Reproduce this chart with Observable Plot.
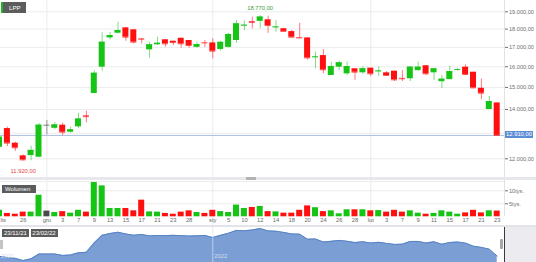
<!DOCTYPE html>
<html><head><meta charset="utf-8">
<script src="https://cdn.jsdelivr.net/npm/d3@7"></script>
<script src="https://cdn.jsdelivr.net/npm/@observablehq/plot@0.6"></script>
<style>
html,body{margin:0;padding:0;background:#fff;}
#chart{position:relative;width:536px;height:262px;overflow:hidden;font-family:"Liberation Sans",Arial,sans-serif;}
#chart svg{position:absolute;left:0;}
.ov{position:absolute;box-sizing:border-box;}
.lbl{position:absolute;box-sizing:border-box;background:#5c5c5c;color:#fff;font-size:6px;line-height:8px;white-space:nowrap;}
</style></head>
<body><div id="chart"></div>
<script>
// ---- data ----
const dates = ["2021-11-23","2021-11-24","2021-11-25","2021-11-26","2021-11-29","2021-11-30",
"2021-12-01","2021-12-02","2021-12-03","2021-12-06","2021-12-07","2021-12-08","2021-12-09","2021-12-10",
"2021-12-13","2021-12-14","2021-12-15","2021-12-16","2021-12-17","2021-12-20","2021-12-21","2021-12-22",
"2021-12-23","2021-12-27","2021-12-28","2021-12-29","2021-12-30",
"2022-01-03","2022-01-04","2022-01-05","2022-01-07","2022-01-10","2022-01-11","2022-01-12","2022-01-13",
"2022-01-14","2022-01-17","2022-01-18","2022-01-19","2022-01-20","2022-01-21","2022-01-24","2022-01-25",
"2022-01-26","2022-01-27","2022-01-28","2022-01-31",
"2022-02-01","2022-02-02","2022-02-03","2022-02-04","2022-02-07","2022-02-08","2022-02-09","2022-02-10",
"2022-02-11","2022-02-14","2022-02-15","2022-02-16","2022-02-17","2022-02-18","2022-02-21","2022-02-22","2022-02-23"];
const open  = [12440,13190,12600,12110,12120,12060,13330,13200,13330,13040,13260,13720,14720,15980,17510,17770,18070,17960,17460,16870,17140,17410,17330,17490,17370,17000,17250,17240,16890,17000,17370,18180,18420,18440,18530,18080,18020,17860,17530,17510,16470,16570,15570,15980,15650,15900,15700,15930,15760,15700,15780,15430,15410,15810,16050,15700,15270,15370,15830,15980,15730,14960,14000,14290];
const high  = [12900,13250,12640,12150,12480,13400,13530,13430,13420,13250,13830,13930,15800,17790,17820,18390,18100,17960,17460,17280,17550,17410,17330,17500,17370,17270,17370,17460,17330,17760,18490,18450,18680,18770,18740,18490,18050,17920,18330,17520,16750,16880,16230,16280,16230,15900,16010,15930,15990,15760,15780,15810,16010,16230,16050,15900,15570,16030,15920,16100,15730,15400,14580,14290];
const low   = [12400,12470,12280,11920,11930,12040,12930,13140,12900,13000,13190,13430,14700,15780,17400,17720,17330,17190,17190,16430,17100,17010,17100,16950,16950,16960,17000,16400,16800,16960,17220,17920,18010,18010,17760,17820,17840,17510,17500,16350,15900,15650,15570,15810,15570,15330,15620,15520,15520,15530,15280,15280,15280,15770,15570,15330,14940,15360,15790,15570,14940,14430,13990,12910];
const close = [12840,12600,12420,11960,12320,13330,13330,13340,13040,13140,13590,13690,15680,17275,17640,17920,17550,17280,17440,17140,17220,17190,17260,17190,17100,17150,17240,16800,17270,17700,18300,18220,18380,18690,18200,18120,17870,17550,17510,16450,16500,15850,16010,16200,16010,15730,15900,15650,15790,15570,15360,15410,15980,15980,15650,15900,15390,15760,15860,15620,14980,14730,14350,12910];
const volume = [2500,1300,1000,1800,1800,8300,2200,1650,2000,1400,2500,1800,13200,11900,3200,3200,3200,2300,6400,1900,1800,1300,1000,1800,2300,1650,1300,2500,2000,1650,4500,3200,3600,4000,2000,1900,1400,1400,2500,4200,3500,2000,2300,1150,2700,2700,2700,2300,2400,1800,2500,1800,2300,1400,1000,1300,2300,1800,1000,1500,2500,1500,2300,2200];
const priceGrid = [12000,13000,14000,15000,16000,17000,18000,19000];
const priceTicks = [12000,14000,15000,16000,17000,18000,19000];
const volumeTicks = [5000,10000];
const volumeTickLabels = ["5tys.","10tys."];
const tickDates = ["2021-11-23","2021-11-26","2021-12-01","2021-12-03","2021-12-07","2021-12-09","2021-12-13","2021-12-15","2021-12-17","2021-12-21","2021-12-23","2021-12-28","2022-01-03","2022-01-05","2022-01-10","2022-01-12","2022-01-14","2022-01-18","2022-01-20","2022-01-24","2022-01-26","2022-01-28","2022-02-01","2022-02-03","2022-02-07","2022-02-09","2022-02-11","2022-02-15","2022-02-17","2022-02-21","2022-02-23"];
const tickLabels = ["lis","26","gru","3","7","9","13","15","17","21","23","28","sty","5","10","12","14","18","20","24","26","28","lut","3","7","9","11","15","17","21","23"];
const monthStartDates = ["2021-12-01","2022-01-03","2022-02-01"];
const yearStartDates = ["2022-01-03"];
const yearLabels = ["2021","2022"];
const ticker = "LPP";
const volumeTitle = "Wolumen";

// ---- derived ----
const GREEN = "#16c416", RED = "#ff1010", FLAT = "#4a4a4a";
const rows = dates.map((d, i) => ({
  i, date: d, open: open[i], high: high[i], low: low[i], close: close[i], volume: volume[i],
  color: close[i] > open[i] ? GREEN : close[i] < open[i] ? RED : FLAT
}));
const idx = d => dates.indexOf(d);
const ticks = tickDates.map((d, k) => ({i: idx(d), label: tickLabels[k]}));
const firstTick = ticks.filter(t => t.i === 0);
const otherTicks = ticks.filter(t => t.i !== 0);
const monthIdx = monthStartDates.map(idx);
const yearIdx = yearStartDates.map(idx);
const loc = d3.formatLocale({decimal: ",", thousands: ".", grouping: [3], currency: ["", ""]});
const fmt = loc.format(",.2f");
const maxRow = rows.reduce((a, b) => b.high > a.high ? b : a);
const minRow = rows.reduce((a, b) => b.low < a.low ? b : a);
const last = rows[rows.length - 1];

const W = 536, MR = 32;
const xOpt = {type: "linear", domain: [0, dates.length - 1], range: [-1, 496.7], axis: null};
const HW = 0.38;
const font = '"Liberation Sans", Arial, sans-serif';

const chart = document.getElementById("chart");

// ---- main candlestick panel ----
const main = Plot.plot({
  width: W, height: 178, marginLeft: 0, marginRight: MR, marginTop: 0, marginBottom: 0,
  style: {fontFamily: font, fontSize: "5.6px", color: "#707070", background: "transparent"},
  x: xOpt,
  y: {type: "log", domain: [12000, 19000], range: [158.3, 11.3], axis: "right",
      ticks: priceTicks, tickFormat: fmt, tickSize: 3, tickPadding: 1.5, label: null},
  color: {type: "identity"},
  marks: [
    Plot.ruleY(priceGrid, {y: d => d, stroke: "#ececec"}),
    Plot.ruleX(monthIdx, {x: d => d, stroke: "#ececec"}),
    Plot.ruleY([last.close], {y: d => d, stroke: "#a9bfdf"}),
    Plot.ruleX(rows, {x: "i", y1: "low", y2: "high", stroke: "color", strokeOpacity: 0.55, clip: true}),
    Plot.rect(rows, {x1: d => d.i - HW, x2: d => d.i + HW, y1: "open", y2: "close", fill: "color", clip: true}),
    Plot.ruleY(rows, {y: "close", x1: d => d.i - HW, x2: d => d.i + HW, stroke: "color", strokeOpacity: 0.7, clip: true}),
    Plot.text([maxRow], {x: "i", y: "high", text: d => fmt(d.high), dy: -8, fill: "#3a9d3a", fontSize: 5.8}),
    Plot.text([minRow], {x: "i", y: "low", text: d => fmt(d.low), dy: 10.5, fill: "#e04848", fontSize: 5.8})
  ]
});
main.style.top = "0px";
chart.appendChild(main);

// ---- volume panel ----
const vol = Plot.plot({
  width: W, height: 48, marginLeft: 0, marginRight: MR, marginTop: 0, marginBottom: 0,
  style: {fontFamily: font, fontSize: "5.6px", color: "#707070", background: "transparent"},
  x: xOpt,
  y: {domain: [0, 10000], range: [38.3, 12.3], axis: "right", ticks: volumeTicks,
      tickFormat: d => volumeTickLabels[volumeTicks.indexOf(d)], tickSize: 3, tickPadding: 1.5, label: null},
  color: {type: "identity"},
  marks: [
    Plot.ruleY(volumeTicks, {y: d => d, stroke: "#ececec"}),
    Plot.ruleX(monthIdx, {x: d => d, stroke: "#ececec"}),
    Plot.rect(rows, {x1: d => d.i - HW, x2: d => d.i + HW, y1: 0, y2: "volume", fill: "color", clip: true}),
    Plot.text(otherTicks, {x: "i", text: "label", frameAnchor: "bottom", dy: -4.7, fill: "#6a6a6a", fontSize: 5.8}),
    Plot.text(firstTick, {x: "i", text: "label", frameAnchor: "bottom", dy: -4.7, dx: 1, textAnchor: "start", fill: "#6a6a6a", fontSize: 5.8})
  ]
});
vol.style.top = "178px";
chart.appendChild(vol);

// ---- navigator ----
const nav = Plot.plot({
  width: W, height: 36, marginLeft: 0, marginRight: MR, marginTop: 0, marginBottom: 0,
  style: {fontFamily: font, fontSize: "5.6px", background: "transparent"},
  x: xOpt,
  y: {domain: [11550, 18700], range: [36, 2], axis: null},
  marks: [
    Plot.areaY(rows, {x: "i", y1: 11550, y2: "close", fill: "#7b9fd4", clip: true}),
    Plot.lineY(rows, {x: "i", y: "close", stroke: "#5682c4", strokeWidth: 1, clip: true}),
    Plot.ruleX(yearIdx, {x: d => d, stroke: "#d6e0f0", strokeOpacity: 0.7}),
    Plot.text([0, ...yearIdx], {x: d => d, text: (d, k) => yearLabels[k], frameAnchor: "bottom", dy: -5, textAnchor: "start", dx: 1.5, fill: "#d3ddee", fontSize: 5.8})
  ]
});
nav.style.top = "226px";
chart.appendChild(nav);

// ---- overlays (panel chrome) ----
function div(cls, css, text) {
  const e = document.createElement("div");
  e.className = cls;
  Object.assign(e.style, css);
  if (text != null) e.textContent = text;
  chart.appendChild(e);
  return e;
}
// panel separators
div("ov", {left: "0px", top: "176.5px", width: W + "px", height: "3.5px", background: "#e6e8ee"});
div("ov", {left: "246px", top: "177px", width: "10px", height: "3px", background: "#b3b3b3"});
div("ov", {left: "0px", top: "180.5px", width: "504px", height: "1px", background: "#ececec"});
div("ov", {left: "0px", top: "225px", width: W + "px", height: "1.5px", background: "#e2e4ea"});
// right borders
div("ov", {left: "503.5px", top: "0px", width: "1px", height: "176.5px", background: "#e2e2e2"});
div("ov", {left: "503.5px", top: "180px", width: "1px", height: "36px", background: "#e2e2e2"});
div("ov", {left: "504px", top: "226.5px", width: "32px", height: "36px", background: "#ececf0"});
div("ov", {left: "503.5px", top: "227px", width: "1px", height: "35px", background: "#3a3a3a"});
div("ov", {left: "500.3px", top: "239px", width: "3px", height: "10px", background: "#a8a8a8", borderRadius: "1px"});
div("ov", {left: "0px", top: "240px", width: "2.5px", height: "9px", background: "#c4c4c4"});
// title boxes
div("lbl", {left: "1px", top: "2px", width: "25px", height: "11px", lineHeight: "11px", paddingLeft: "6px", borderLeft: "2px solid #22b522", fontSize: "6.2px"}, ticker);
div("lbl", {left: "2px", top: "185px", width: "34px", height: "8px", paddingLeft: "3px"}, volumeTitle);
const dmy = s => { const [y, m, d] = s.split("-"); return `${d}/${m}/${y.slice(2)}`; };
div("lbl", {left: "2px", top: "229px", width: "27px", height: "8px", textAlign: "center"}, dmy(dates[0]));
div("lbl", {left: "30.5px", top: "229px", width: "27px", height: "8px", textAlign: "center"}, dmy(dates[dates.length - 1]));
// last price box, positioned with the main y scale
const yLast = main.scale("y").apply(last.close);
div("lbl", {left: "505px", top: (yLast - 3.5) + "px", width: "28px", height: "7px", lineHeight: "7px",
  background: "#5a8cd4", textAlign: "center", fontSize: "5.8px"}, fmt(last.close));
</script>
</body></html>
